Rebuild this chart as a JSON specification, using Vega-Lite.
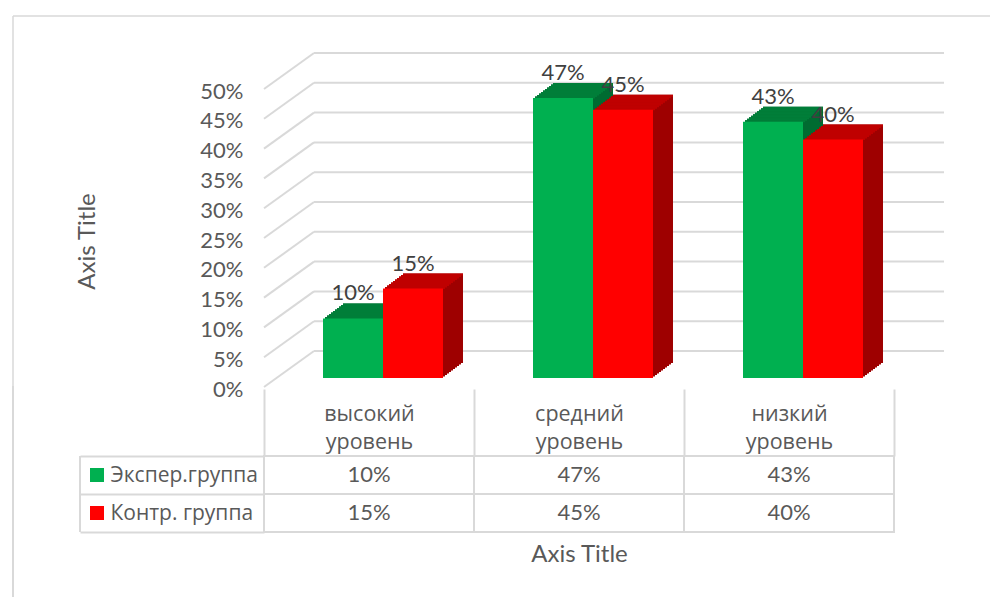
{"$schema":"https://vega.github.io/schema/vega-lite/v6.json","padding":{"left":12,"top":15,"right":0,"bottom":0},"background":"white","spacing":-15,
"config":{"font":"Open Sans","view":{"stroke":null},"axisYQuantitative":{"tickCount":12,"labelExpr":"datum.value>0.501?'':datum.label","labelFont":"Lato","labelFontSize":22,"labelColor":"#595959","labelOverlap":false,"labelBound":false,"labelOffset":2,"ticks":false,"domain":false,"grid":false,"labelPadding":21}},
"datasets":{"scores":[
{"level":"высокий уровень","series":"Экспер.группа","value":0.10},
{"level":"высокий уровень","series":"Контр. группа","value":0.15},
{"level":"средний уровень","series":"Экспер.группа","value":0.47},
{"level":"средний уровень","series":"Контр. группа","value":0.45},
{"level":"низкий уровень","series":"Экспер.группа","value":0.43},
{"level":"низкий уровень","series":"Контр. группа","value":0.40}],
"ticks":[{"v":0},{"v":0.05},{"v":0.1},{"v":0.15},{"v":0.2},{"v":0.25},{"v":0.3},{"v":0.35},{"v":0.4},{"v":0.45},{"v":0.5}]},
"vconcat":[
{"width":630,"height":371,
"resolve":{"scale":{"x":"independent"}},
"layer":[
{"data":{"name":"ticks"},"mark":{"type":"rule","color":"#d9d9d9","strokeWidth":2,"x2Offset":50,"y2Offset":-36},
 "encoding":{"x":{"datum":0,"type":"quantitative","scale":{"domain":[0,3]},"axis":null},"x2":{"datum":0},"y":{"field":"v","type":"quantitative","scale":{"domain":[0,0.6225],"nice":false},"axis":{"format":".0%","title":"Axis Title","titleFont":"Lato","titleFontSize":24,"titleFontWeight":"normal","titleColor":"#595959","titleX":-165,"titleY":225}},"y2":{"field":"v"}}},
{"data":{"name":"ticks"},"mark":{"type":"rule","color":"#d9d9d9","strokeWidth":2,"xOffset":50,"x2Offset":50,"yOffset":-36,"y2Offset":-36},
 "encoding":{"x":{"datum":0,"type":"quantitative","scale":{"domain":[0,3]},"axis":null},"x2":{"datum":3},"y":{"field":"v","type":"quantitative"}}},
{"data":{"values":[{"edge":0.6225}]},"mark":{"type":"rule","color":"#d9d9d9","strokeWidth":1.5,"xOffset":-251,"x2Offset":96},
 "encoding":{"x":{"datum":0,"type":"quantitative","scale":{"domain":[0,3]},"axis":null},"x2":{"datum":3},"y":{"field":"edge","type":"quantitative"}}},
{"data":{"values":[{"edge":0.6225}]},"mark":{"type":"rule","color":"#d9d9d9","strokeWidth":1.5,"xOffset":-251},
 "encoding":{"x":{"datum":0,"type":"quantitative","scale":{"domain":[0,3]},"axis":null},"y":{"field":"edge","type":"quantitative"},"y2":{"datum":0}}},

{"data":{"name":"scores"},"mark":{"type":"bar","yOffset":-24,"y2Offset":-24},"encoding":{"x":{"field":"level","type":"nominal","sort":null,"axis":null,"scale":{"range":[34,664],"paddingInner":0.4286,"paddingOuter":0.2143}},"xOffset":{"field":"series","type":"nominal","sort":null,"scale":{"paddingInner":0,"paddingOuter":0}},"y":{"field":"value","type":"quantitative","stack":null},"y2":{"datum":0},"color":{"condition":{"test":"datum.series==='Экспер.группа'","value":"#006b31"},"value":"#9e0000"}}},
{"data":{"name":"scores"},"mark":{"type":"bar","yOffset":-22.5,"y2Offset":-22.5},"encoding":{"x":{"field":"level","type":"nominal","sort":null,"axis":null,"scale":{"range":[32,662],"paddingInner":0.4286,"paddingOuter":0.2143}},"xOffset":{"field":"series","type":"nominal","sort":null},"y":{"field":"value","type":"quantitative","stack":null},"y2":{"datum":0},"color":{"condition":{"test":"datum.series==='Экспер.группа'","value":"#006b31"},"value":"#9e0000"}}},
{"data":{"name":"scores"},"mark":{"type":"bar","yOffset":-21,"y2Offset":-21},"encoding":{"x":{"field":"level","type":"nominal","sort":null,"axis":null,"scale":{"range":[30,660],"paddingInner":0.4286,"paddingOuter":0.2143}},"xOffset":{"field":"series","type":"nominal","sort":null},"y":{"field":"value","type":"quantitative","stack":null},"y2":{"datum":0},"color":{"condition":{"test":"datum.series==='Экспер.группа'","value":"#006b31"},"value":"#9e0000"}}},
{"data":{"name":"scores"},"mark":{"type":"bar","yOffset":-19.5,"y2Offset":-19.5},"encoding":{"x":{"field":"level","type":"nominal","sort":null,"axis":null,"scale":{"range":[28,658],"paddingInner":0.4286,"paddingOuter":0.2143}},"xOffset":{"field":"series","type":"nominal","sort":null},"y":{"field":"value","type":"quantitative","stack":null},"y2":{"datum":0},"color":{"condition":{"test":"datum.series==='Экспер.группа'","value":"#006b31"},"value":"#9e0000"}}},
{"data":{"name":"scores"},"mark":{"type":"bar","yOffset":-18,"y2Offset":-18},"encoding":{"x":{"field":"level","type":"nominal","sort":null,"axis":null,"scale":{"range":[26,656],"paddingInner":0.4286,"paddingOuter":0.2143}},"xOffset":{"field":"series","type":"nominal","sort":null},"y":{"field":"value","type":"quantitative","stack":null},"y2":{"datum":0},"color":{"condition":{"test":"datum.series==='Экспер.группа'","value":"#006b31"},"value":"#9e0000"}}},
{"data":{"name":"scores"},"mark":{"type":"bar","yOffset":-16.5,"y2Offset":-16.5},"encoding":{"x":{"field":"level","type":"nominal","sort":null,"axis":null,"scale":{"range":[24,654],"paddingInner":0.4286,"paddingOuter":0.2143}},"xOffset":{"field":"series","type":"nominal","sort":null},"y":{"field":"value","type":"quantitative","stack":null},"y2":{"datum":0},"color":{"condition":{"test":"datum.series==='Экспер.группа'","value":"#006b31"},"value":"#9e0000"}}},
{"data":{"name":"scores"},"mark":{"type":"bar","yOffset":-15,"y2Offset":-15},"encoding":{"x":{"field":"level","type":"nominal","sort":null,"axis":null,"scale":{"range":[22,652],"paddingInner":0.4286,"paddingOuter":0.2143}},"xOffset":{"field":"series","type":"nominal","sort":null},"y":{"field":"value","type":"quantitative","stack":null},"y2":{"datum":0},"color":{"condition":{"test":"datum.series==='Экспер.группа'","value":"#006b31"},"value":"#9e0000"}}},
{"data":{"name":"scores"},"mark":{"type":"bar","yOffset":-13.5,"y2Offset":-13.5},"encoding":{"x":{"field":"level","type":"nominal","sort":null,"axis":null,"scale":{"range":[20,650],"paddingInner":0.4286,"paddingOuter":0.2143}},"xOffset":{"field":"series","type":"nominal","sort":null},"y":{"field":"value","type":"quantitative","stack":null},"y2":{"datum":0},"color":{"condition":{"test":"datum.series==='Экспер.группа'","value":"#006b31"},"value":"#9e0000"}}},
{"data":{"name":"scores"},"mark":{"type":"bar","yOffset":-12,"y2Offset":-12},"encoding":{"x":{"field":"level","type":"nominal","sort":null,"axis":null,"scale":{"range":[18,648],"paddingInner":0.4286,"paddingOuter":0.2143}},"xOffset":{"field":"series","type":"nominal","sort":null},"y":{"field":"value","type":"quantitative","stack":null},"y2":{"datum":0},"color":{"condition":{"test":"datum.series==='Экспер.группа'","value":"#006b31"},"value":"#9e0000"}}},
{"data":{"name":"scores"},"mark":{"type":"bar","yOffset":-10.5,"y2Offset":-10.5},"encoding":{"x":{"field":"level","type":"nominal","sort":null,"axis":null,"scale":{"range":[16,646],"paddingInner":0.4286,"paddingOuter":0.2143}},"xOffset":{"field":"series","type":"nominal","sort":null},"y":{"field":"value","type":"quantitative","stack":null},"y2":{"datum":0},"color":{"condition":{"test":"datum.series==='Экспер.группа'","value":"#006b31"},"value":"#9e0000"}}},

{"data":{"name":"scores"},"mark":{"type":"bar","yOffset":-24,"y2Offset":-22},"encoding":{"x":{"field":"level","type":"nominal","sort":null,"axis":null,"scale":{"range":[34,664],"paddingInner":0.4286,"paddingOuter":0.2143}},"xOffset":{"field":"series","type":"nominal","sort":null},"y":{"field":"value","type":"quantitative","stack":null},"y2":{"field":"value"},"color":{"condition":{"test":"datum.series==='Экспер.группа'","value":"#007e39"},"value":"#bf0000"}}},
{"data":{"name":"scores"},"mark":{"type":"bar","yOffset":-22.5,"y2Offset":-20.5},"encoding":{"x":{"field":"level","type":"nominal","sort":null,"axis":null,"scale":{"range":[32,662],"paddingInner":0.4286,"paddingOuter":0.2143}},"xOffset":{"field":"series","type":"nominal","sort":null},"y":{"field":"value","type":"quantitative","stack":null},"y2":{"field":"value"},"color":{"condition":{"test":"datum.series==='Экспер.группа'","value":"#007e39"},"value":"#bf0000"}}},
{"data":{"name":"scores"},"mark":{"type":"bar","yOffset":-21,"y2Offset":-19},"encoding":{"x":{"field":"level","type":"nominal","sort":null,"axis":null,"scale":{"range":[30,660],"paddingInner":0.4286,"paddingOuter":0.2143}},"xOffset":{"field":"series","type":"nominal","sort":null},"y":{"field":"value","type":"quantitative","stack":null},"y2":{"field":"value"},"color":{"condition":{"test":"datum.series==='Экспер.группа'","value":"#007e39"},"value":"#bf0000"}}},
{"data":{"name":"scores"},"mark":{"type":"bar","yOffset":-19.5,"y2Offset":-17.5},"encoding":{"x":{"field":"level","type":"nominal","sort":null,"axis":null,"scale":{"range":[28,658],"paddingInner":0.4286,"paddingOuter":0.2143}},"xOffset":{"field":"series","type":"nominal","sort":null},"y":{"field":"value","type":"quantitative","stack":null},"y2":{"field":"value"},"color":{"condition":{"test":"datum.series==='Экспер.группа'","value":"#007e39"},"value":"#bf0000"}}},
{"data":{"name":"scores"},"mark":{"type":"bar","yOffset":-18,"y2Offset":-16},"encoding":{"x":{"field":"level","type":"nominal","sort":null,"axis":null,"scale":{"range":[26,656],"paddingInner":0.4286,"paddingOuter":0.2143}},"xOffset":{"field":"series","type":"nominal","sort":null},"y":{"field":"value","type":"quantitative","stack":null},"y2":{"field":"value"},"color":{"condition":{"test":"datum.series==='Экспер.группа'","value":"#007e39"},"value":"#bf0000"}}},
{"data":{"name":"scores"},"mark":{"type":"bar","yOffset":-16.5,"y2Offset":-14.5},"encoding":{"x":{"field":"level","type":"nominal","sort":null,"axis":null,"scale":{"range":[24,654],"paddingInner":0.4286,"paddingOuter":0.2143}},"xOffset":{"field":"series","type":"nominal","sort":null},"y":{"field":"value","type":"quantitative","stack":null},"y2":{"field":"value"},"color":{"condition":{"test":"datum.series==='Экспер.группа'","value":"#007e39"},"value":"#bf0000"}}},
{"data":{"name":"scores"},"mark":{"type":"bar","yOffset":-15,"y2Offset":-13},"encoding":{"x":{"field":"level","type":"nominal","sort":null,"axis":null,"scale":{"range":[22,652],"paddingInner":0.4286,"paddingOuter":0.2143}},"xOffset":{"field":"series","type":"nominal","sort":null},"y":{"field":"value","type":"quantitative","stack":null},"y2":{"field":"value"},"color":{"condition":{"test":"datum.series==='Экспер.группа'","value":"#007e39"},"value":"#bf0000"}}},
{"data":{"name":"scores"},"mark":{"type":"bar","yOffset":-13.5,"y2Offset":-11.5},"encoding":{"x":{"field":"level","type":"nominal","sort":null,"axis":null,"scale":{"range":[20,650],"paddingInner":0.4286,"paddingOuter":0.2143}},"xOffset":{"field":"series","type":"nominal","sort":null},"y":{"field":"value","type":"quantitative","stack":null},"y2":{"field":"value"},"color":{"condition":{"test":"datum.series==='Экспер.группа'","value":"#007e39"},"value":"#bf0000"}}},
{"data":{"name":"scores"},"mark":{"type":"bar","yOffset":-12,"y2Offset":-10},"encoding":{"x":{"field":"level","type":"nominal","sort":null,"axis":null,"scale":{"range":[18,648],"paddingInner":0.4286,"paddingOuter":0.2143}},"xOffset":{"field":"series","type":"nominal","sort":null},"y":{"field":"value","type":"quantitative","stack":null},"y2":{"field":"value"},"color":{"condition":{"test":"datum.series==='Экспер.группа'","value":"#007e39"},"value":"#bf0000"}}},
{"data":{"name":"scores"},"mark":{"type":"bar","yOffset":-10.5,"y2Offset":-8.5},"encoding":{"x":{"field":"level","type":"nominal","sort":null,"axis":null,"scale":{"range":[16,646],"paddingInner":0.4286,"paddingOuter":0.2143}},"xOffset":{"field":"series","type":"nominal","sort":null},"y":{"field":"value","type":"quantitative","stack":null},"y2":{"field":"value"},"color":{"condition":{"test":"datum.series==='Экспер.группа'","value":"#007e39"},"value":"#bf0000"}}},

{"data":{"name":"scores"},"mark":{"type":"bar","yOffset":-9,"y2Offset":-9},
  "encoding":{"x":{"field":"level","type":"nominal","sort":null,"axis":null,"scale":{"range":[14,644],"paddingInner":0.4286,"paddingOuter":0.2143}},
  "xOffset":{"field":"series","type":"nominal","sort":null},
  "y":{"field":"value","type":"quantitative","stack":null},"y2":{"datum":0},"color":{"field":"series","type":"nominal","sort":null,"scale":{"domain":["Экспер.группа","Контр. группа"],"range":["#00b050","#ff0000"]},"legend":null}}},
{"data":{"name":"scores"},"mark":{"type":"text","font":"Lato","fontSize":22,"color":"#404040","yOffset":-34},
  "encoding":{"x":{"field":"level","type":"nominal","sort":null,"axis":null,"scale":{"range":[14,644],"paddingInner":0.4286,"paddingOuter":0.2143}},"xOffset":{"field":"series","type":"nominal","sort":null},"y":{"field":"value","type":"quantitative","stack":null},"text":{"field":"value","type":"quantitative","format":".0%"}}}
]},
{"width":630,"height":76,"data":{"name":"scores"},
"layer":[
{"mark":{"type":"rect","fill":null,"stroke":"#d9d9d9","strokeWidth":2},
 "encoding":{"x":{"field":"level","type":"nominal","sort":null,"scale":{"paddingInner":0,"paddingOuter":0},"axis":{"orient":"top","title":null,"labelAngle":0,"labelExpr":"split(datum.label,' ')","labelFontSize":21.5,"labelColor":"#595959","labelLineHeight":28,"labelPadding":-36,"tickSize":67,"tickColor":"#d9d9d9","tickWidth":2,"tickBand":"extent","domain":false}},
 "y":{"field":"series","type":"nominal","sort":null,"axis":{"title":null,"labelAlign":"left","labelPadding":-30,"labelFontSize":21,"labelColor":"#595959","tickBand":"extent","tickSize":184,"tickColor":"#d9d9d9","tickWidth":2,"domain":false}}}},
{"mark":{"type":"text","font":"Lato","fontSize":22,"color":"#595959"},
 "encoding":{"x":{"field":"level","type":"nominal","sort":null,"axis":{"orient":"bottom","title":"Axis Title","titleFont":"Lato","titleFontSize":24,"titleFontWeight":"normal","titleColor":"#595959","labels":false,"ticks":false,"domain":false,"titlePadding":10}},
 "y":{"field":"series","type":"nominal","sort":null},
 "text":{"field":"value","type":"quantitative","format":".0%"}}},
{"mark":{"type":"square","size":196,"opacity":1,"xOffset":-167},
 "encoding":{"x":{"datum":"высокий уровень","bandPosition":0,"axis":null},"y":{"field":"series","type":"nominal","sort":null},
 "color":{"field":"series","type":"nominal","sort":null,"scale":{"domain":["Экспер.группа","Контр. группа"],"range":["#00b050","#ff0000"]},"legend":null}}},
{"mark":{"type":"rule","color":"#d9d9d9","strokeWidth":2,"xOffset":-184},
 "encoding":{"x":{"datum":"высокий уровень","bandPosition":0,"axis":null}}},
{"mark":{"type":"rule","color":"#d9d9d9","strokeWidth":1.5,"xOffset":-251,"yOffset":-70,"y2Offset":106},
 "encoding":{"x":{"datum":"высокий уровень","bandPosition":0,"axis":null},"y":{"datum":"Экспер.группа","bandPosition":0},"y2":{"datum":"Контр. группа"}}}
]}
]}
